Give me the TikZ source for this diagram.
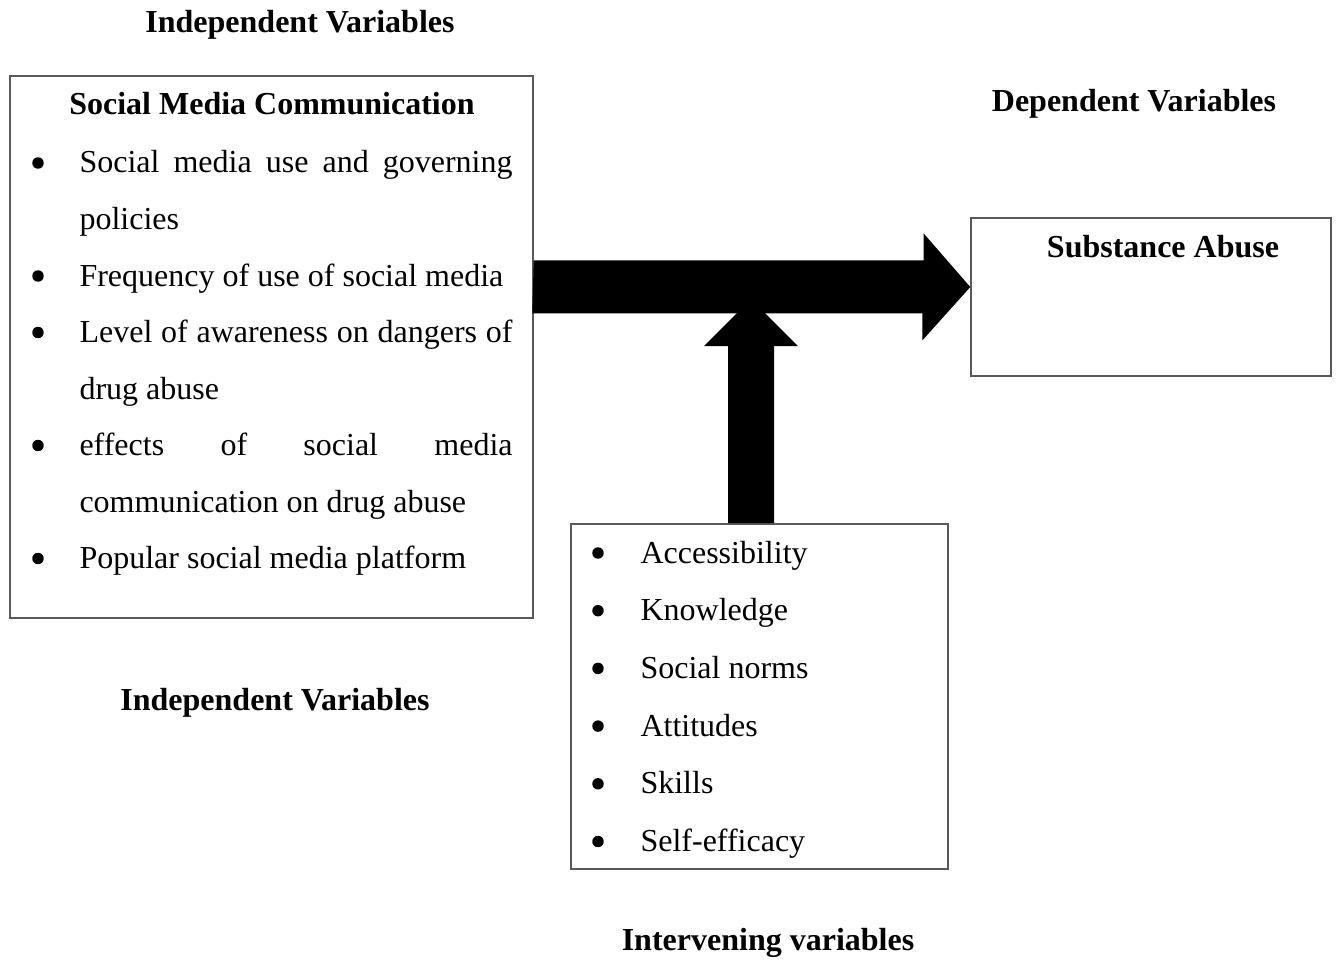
\documentclass[tikz,border=0pt]{standalone}
\usepackage{fontspec}
\setmainfont{Liberation Serif}
\usepackage{tikz}
\usetikzlibrary{positioning,calc}

% one justified line of a bullet item
\newcommand{\fullline}[1]{\makebox[162.4pt][s]{#1}}

\begin{document}
\begin{tikzpicture}[x=0.375pt, y=-0.375pt,
  box/.style={draw=black!65, line width=0.55pt, inner sep=0pt},
  txt/.style={anchor=base west, inner sep=0pt, font=\fontsize{12}{14.4}\selectfont},
  head/.style={anchor=base, inner sep=0pt, font=\fontsize{12}{14.4}\selectfont\bfseries},
  dot/.style={circle, fill=black, inner sep=0pt, minimum size=4.3pt}]
  \useasboundingbox (0,0) rectangle (1337,962);

  % Boxes
  \node[box, minimum width=196.1pt, minimum height=203.3pt] (smc) at (271.5,347) {};
  \node[box, minimum width=135pt, minimum height=59.3pt] (sa) at (1151,297) {};
  \node[box, minimum width=141.4pt, minimum height=129.4pt] (iv) at (759.5,696.5) {};

  % Block arrows
  \path (smc.east) ++(0,-60) coordinate (hs);
  \path (iv.north) ++(-8.5,0) coordinate (vs);
  \fill (vs) ++(-23,0) -- ++(0,-177) -- ++(-24,0) -- ++(47,-47) -- ++(47,47)
    -- ++(-24,0) -- ++(0,177) -- cycle;
  \fill (hs) ++(0,-26.5) -- ++(390,0) -- ++(0,-27) -- (sa.west |- hs)
    -- ++(-48,53.5) -- ++(0,-27) -- ++(-390,0) -- cycle;

  % Headings
  \node[head] (indtop) at (300,33) {Independent Variables};
  \node[head] (smctitle) at (272,115) {Social Media Communication};
  \node[head] (dep) at (1134,112) {Dependent Variables};
  \node[head] (satitle) at (1163,258) {Substance Abuse};
  \node[head] (indbot) at (275,710) {Independent Variables};
  \node[head] (intv) at (768,950) {Intervening variables};

  % Social media items
  \foreach \y/\t [count=\i] in {173/\fullline{Social media use and governing},
      229.5/policies, 286/Frequency of use of social media,
      342.5/\fullline{Level of awareness on dangers of}, 399/drug abuse,
      455.5/\fullline{effects of social media}, 512/communication on drug abuse,
      568.5/Popular social media platform}
    \node[txt] (sl\i) at (79,\y) {\t};
  \foreach \y [count=\i] in {173,286,342.5,455.5,568.5}
    \node[dot] (sb\i) at (38,\y-10) {};

  % Intervening items
  \foreach \y/\t [count=\i] in {563/Accessibility, 620.7/Knowledge, 678.4/Social norms,
      736.1/Attitudes, 793.8/Skills, 851.5/Self-efficacy} {
    \node[dot] (ib\i) at (598,\y-10) {};
    \node[txt] (il\i) at (640,\y) {\t};
  }
\end{tikzpicture}
\end{document}
